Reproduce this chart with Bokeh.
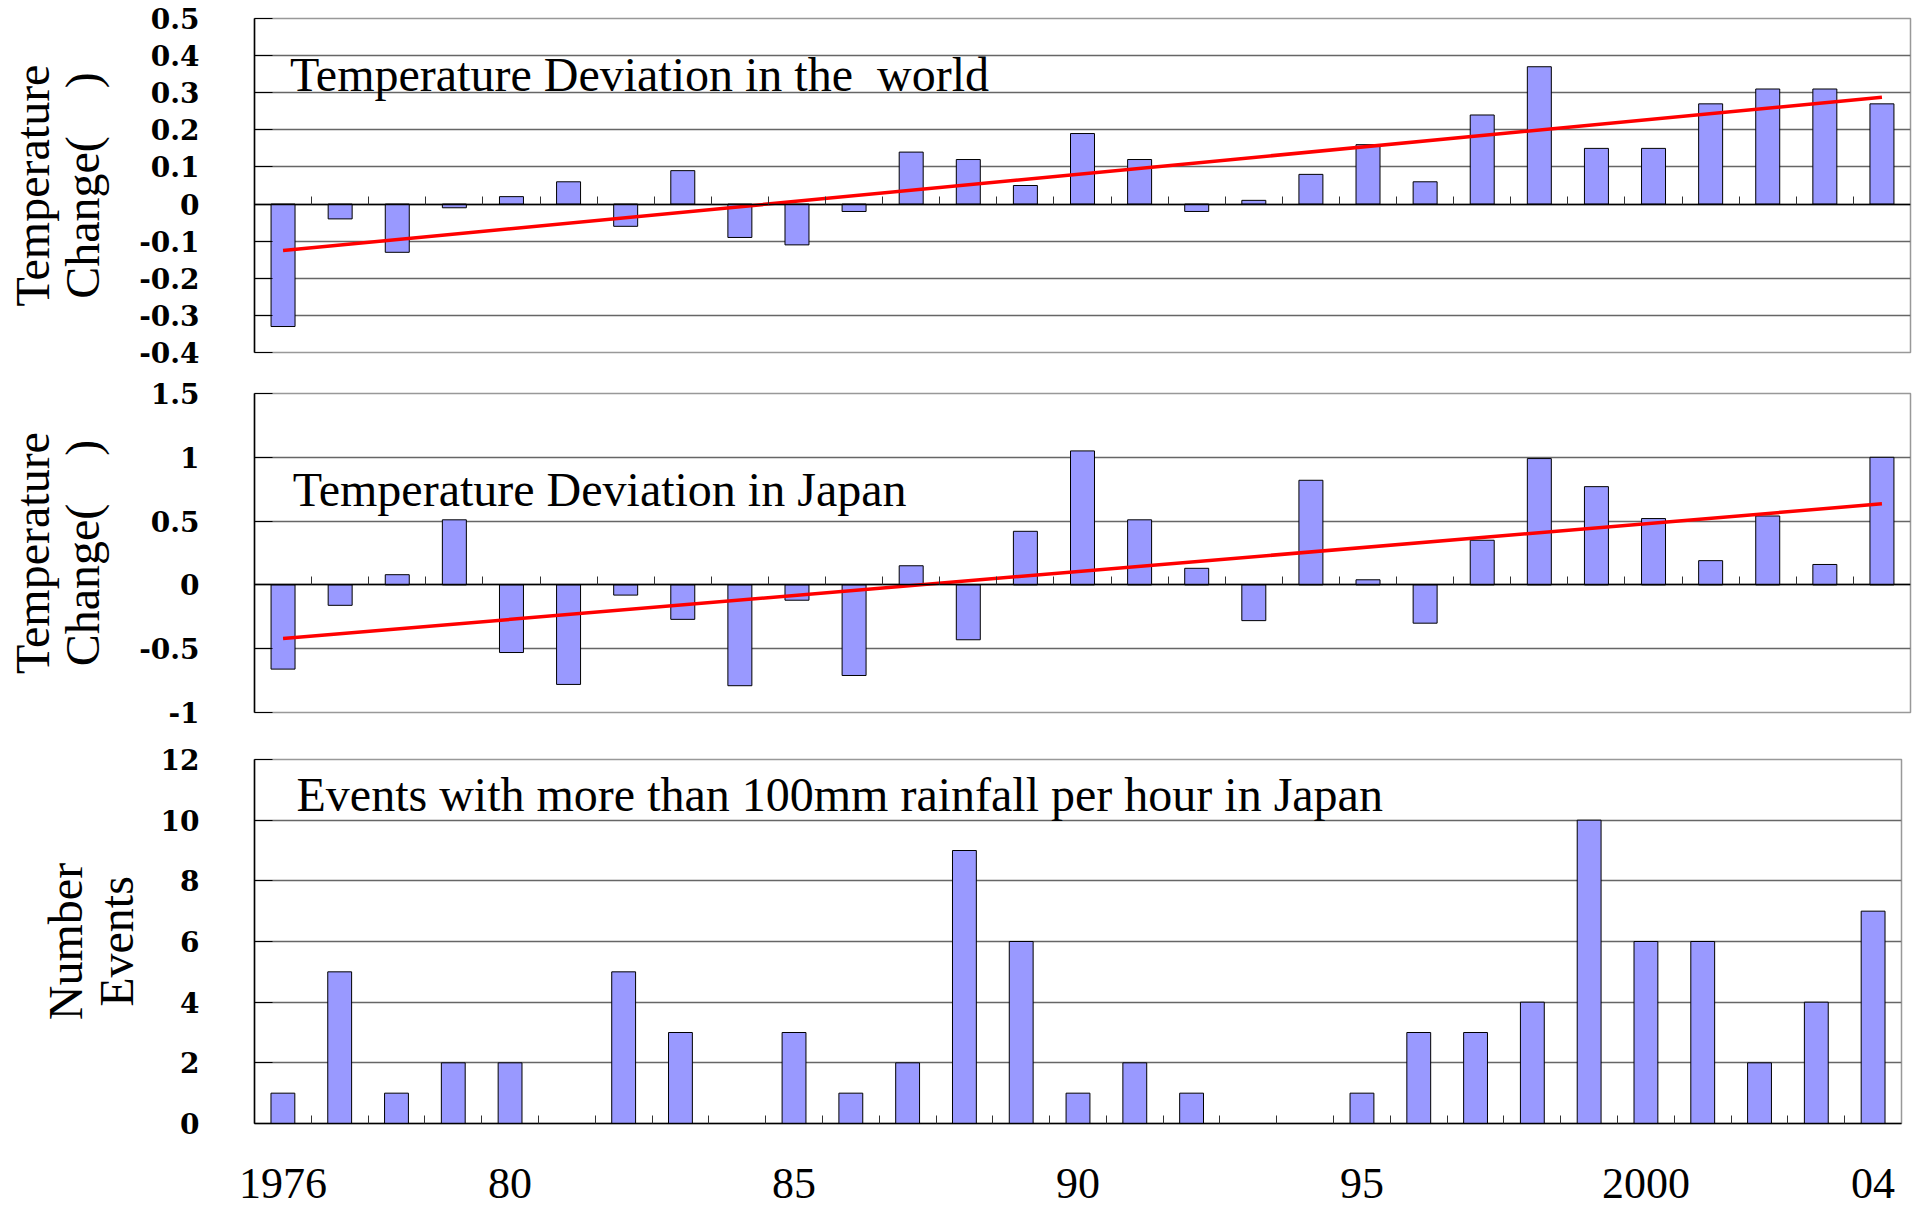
import numpy as np
from bokeh.plotting import figure
from bokeh.models import Range1d, FixedTicker, Label
from bokeh.layouts import column
from bokeh.embed import file_html
from bokeh.resources import INLINE

# ---------------- data ----------------
years = list(range(1976, 2005))
world_dev = [-0.33, -0.04, -0.13, -0.01, 0.02, 0.06, -0.06, 0.09, -0.09, -0.11,
             -0.02, 0.14, 0.12, 0.05, 0.19, 0.12, -0.02, 0.01, 0.08, 0.16,
             0.06, 0.24, 0.37, 0.15, 0.15, 0.27, 0.31, 0.31, 0.27]
japan_dev = [-0.66, -0.16, 0.08, 0.51, -0.53, -0.78, -0.08, -0.27, -0.79, -0.12,
             -0.71, 0.15, -0.43, 0.42, 1.05, 0.51, 0.13, -0.28, 0.82, 0.04,
             -0.30, 0.35, 0.99, 0.77, 0.52, 0.19, 0.54, 0.16, 1.00]
rain_events = [1, 5, 1, 2, 2, 0, 5, 3, 0, 3, 1, 2, 9, 6, 1, 2, 1, 0, 0, 1,
               3, 3, 4, 10, 6, 6, 2, 4, 7]

world_ticks = [-0.4, -0.3, -0.2, -0.1, 0, 0.1, 0.2, 0.3, 0.4, 0.5]
japan_ticks = [-1, -0.5, 0, 0.5, 1, 1.5]
rain_ticks = [0, 2, 4, 6, 8, 10, 12]
x_tick_years = [1976, 1980, 1985, 1990, 1995, 2000, 2004]
x_tick_labels = ["1976", "80", "85", "90", "95", "2000", "04"]

title_world = "Temperature Deviation in the\u00a0 world"
title_japan = "Temperature Deviation in Japan"
title_rain = "Events with more than 100mm rainfall per hour in Japan"
ylabel_temp = "Temperature\nChange(\u3000)"
ylabel_rain = "Number\nEvents"

# ---------------- style ----------------
BAR = "#9999FF"
W = 1912
boundaries = [y + 0.5 for y in years[:-1]]


def fmt(v):
    return f"{v:g}"


def make_panel(values, yticks, ylabel, title, title_pos, width, height, btop, bbot,
               label_standoff, trend=False, zero_axis=True, xlabels=False):
    p = figure(width=width, height=height, output_backend="svg", toolbar_location=None,
               x_range=Range1d(years[0] - 0.5, years[-1] + 0.5),
               y_range=Range1d(yticks[0], yticks[-1]),
               min_border_left=254, min_border_right=2,
               min_border_top=btop, min_border_bottom=bbot)
    p.background_fill_color = "white"
    p.border_fill_color = "white"
    p.outline_line_color = "#999999"
    p.outline_line_width = 1.5
    p.xgrid.visible = False
    p.ygrid.grid_line_color = "#666666"
    p.ygrid.grid_line_width = 1.5

    p.vbar(x=years, top=values, bottom=0, width=0.42, fill_color=BAR,
           line_color="black", line_width=1)

    if trend:
        k, b = np.polyfit(years, values, 1)
        xs = [years[0], years[-1]]
        p.line(x=xs, y=[k * xs[0] + b, k * xs[1] + b], line_color="#FF0000", line_width=3.5)

    # y axis
    ya = p.yaxis[0]
    ya.ticker = FixedTicker(ticks=yticks)
    ya.major_label_overrides = {t: fmt(t) for t in yticks}
    ya.major_label_text_font = "DejaVu Serif"
    ya.major_label_text_font_style = "bold"
    ya.major_label_text_font_size = "28px"
    ya.major_label_text_color = "black"
    ya.major_label_standoff = 55
    ya.major_tick_in = 18
    ya.major_tick_out = 0
    ya.major_tick_line_color = "black"
    ya.minor_tick_line_color = None
    ya.axis_line_color = "black"
    ya.axis_line_width = 1.5
    ya.axis_label = ylabel
    ya.axis_label_text_font = "Liberation Serif"
    ya.axis_label_text_font_style = "normal"
    ya.axis_label_text_font_size = "48px"
    ya.axis_label_text_line_height = 0.95
    ya.axis_label_text_color = "black"
    ya.axis_label_standoff = label_standoff

    # x axis
    xa = p.xaxis[0]
    xa.axis_line_color = "black"
    xa.axis_line_width = 1.5
    xa.minor_tick_in = 8
    xa.minor_tick_out = 0
    xa.minor_tick_line_color = "#333333"
    if xlabels:
        xa.ticker = FixedTicker(ticks=x_tick_years, minor_ticks=boundaries)
        xa.major_label_overrides = dict(zip(x_tick_years, x_tick_labels))
        xa.major_tick_in = 0
        xa.major_tick_out = 0
        xa.major_label_text_font = "Liberation Serif"
        xa.major_label_text_font_size = "44px"
        xa.major_label_text_color = "black"
        xa.major_label_standoff = 45
    else:
        xa.ticker = FixedTicker(ticks=[], minor_ticks=boundaries)
        xa.major_tick_line_color = None
    if zero_axis:
        xa.fixed_location = 0

    p.add_layout(Label(x=title_pos[0], y=title_pos[1], text=title,
                       text_font="Liberation Serif", text_font_size="48px",
                       text_color="black", text_baseline="alphabetic"))
    return p


p1 = make_panel(world_dev, world_ticks, ylabel_temp, title_world, (1976.12, 0.349),
                width=W, height=372, btop=18, bbot=20, label_standoff=27, trend=True)
p2 = make_panel(japan_dev, japan_ticks, ylabel_temp, title_japan, (1976.17, 0.75),
                width=W, height=360, btop=21, bbot=20, label_standoff=27, trend=True)
p3 = make_panel(rain_events, rain_ticks, ylabel_rain, title_rain, (1976.24, 10.85),
                width=W - 9, height=474, btop=27, bbot=83, label_standoff=15,
                zero_axis=False, xlabels=True)

layout = column(p1, p2, p3, spacing=0)
open("out.html", "w").write(file_html(layout, INLINE))
